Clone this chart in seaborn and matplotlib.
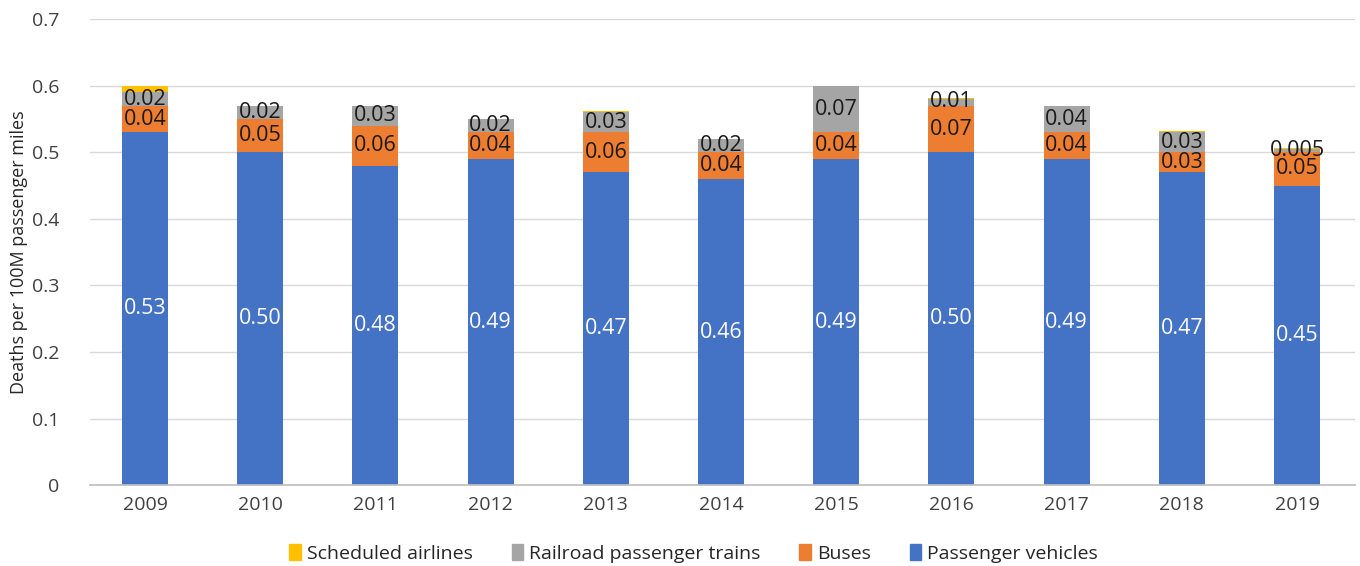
import numpy as np
import pandas as pd
import matplotlib.pyplot as plt
import seaborn as sns
from matplotlib.patches import Patch

years = ["2009", "2010", "2011", "2012", "2013", "2014", "2015", "2016", "2017", "2018", "2019"]
vehicles = [0.53, 0.50, 0.48, 0.49, 0.47, 0.46, 0.49, 0.50, 0.49, 0.47, 0.45]
buses = [0.04, 0.05, 0.06, 0.04, 0.06, 0.04, 0.04, 0.07, 0.04, 0.03, 0.05]
trains = [0.02, 0.02, 0.03, 0.02, 0.03, 0.02, 0.07, 0.01, 0.04, 0.03, 0.005]
airlines = [0.01, 0.0, 0.0, 0.0, 0.002, 0.0, 0.0, 0.002, 0.0, 0.002, 0.002]

vehicle_labels = ["0.53", "0.50", "0.48", "0.49", "0.47", "0.46", "0.49", "0.50", "0.49", "0.47", "0.45"]
bus_labels = ["0.04", "0.05", "0.06", "0.04", "0.06", "0.04", "0.04", "0.07", "0.04", "0.03", "0.05"]
train_labels = ["0.02", "0.02", "0.03", "0.02", "0.03", "0.02", "0.07", "0.01", "0.04", "0.03", "0.005"]

colors = {"Passenger vehicles": "#4472C4", "Buses": "#ED7D31",
          "Railroad passenger trains": "#A5A5A5", "Scheduled airlines": "#FFC000"}

sns.set_theme(style="white")
plt.rcParams["font.family"] = ["Open Sans", "DejaVu Sans"]

df = pd.DataFrame({"year": years, "Passenger vehicles": vehicles, "Buses": buses,
                   "Railroad passenger trains": trains, "Scheduled airlines": airlines})

fig = plt.figure(figsize=(13.6, 5.66), dpi=100)
ax = fig.add_axes([0.066, 0.143, 0.930, 0.823])

bottom = np.zeros(len(years))
layers = ["Passenger vehicles", "Buses", "Railroad passenger trains", "Scheduled airlines"]
labels = {"Passenger vehicles": vehicle_labels, "Buses": bus_labels,
          "Railroad passenger trains": train_labels}
for name in layers:
    vals = df[name].values
    sns.barplot(data=df, x="year", y=name, order=years, color=colors[name],
                bottom=bottom, width=0.4, saturation=1, ax=ax, linewidth=0)
    if name in labels:
        tc = "white" if name == "Passenger vehicles" else "#1a1a1a"
        for i, (v, b) in enumerate(zip(vals, bottom)):
            y = b + v / 2
            if name == "Railroad passenger trains" and v < 0.015:
                y = b + v / 2 + 0.001
            ax.text(i, y, labels[name][i], ha="center", va="center",
                    color=tc, fontsize=15.5)
    bottom = bottom + vals

ax.set_ylim(0, 0.7)
ax.set_xlim(-0.48, 10.5)
ax.set_yticks(np.arange(0, 0.71, 0.1))
ax.set_yticklabels(["0", "0.1", "0.2", "0.3", "0.4", "0.5", "0.6", "0.7"])
ax.yaxis.grid(True, color="#d9d9d9", linewidth=1)
ax.set_axisbelow(True)
for s in ["top", "right", "left"]:
    ax.spines[s].set_visible(False)
ax.spines["bottom"].set_color("#bfbfbf")
ax.tick_params(axis="both", labelsize=14, colors="#404040", length=0)
ax.tick_params(axis="y", pad=22)
ax.tick_params(axis="x", pad=8)
ax.set_xlabel("")
ax.set_ylabel("Deaths per 100M passenger miles", fontsize=13, color="#262626", labelpad=3)

handles = [Patch(color=colors[n]) for n in
           ["Scheduled airlines", "Railroad passenger trains", "Buses", "Passenger vehicles"]]
fig.legend(handles, ["Scheduled airlines", "Railroad passenger trains", "Buses", "Passenger vehicles"],
           loc="lower center", bbox_to_anchor=(0.51, -0.025), ncol=4, frameon=False,
           fontsize=14, handlelength=0.6, handleheight=0.9, handletextpad=0.3,
           columnspacing=2.0)

fig.savefig("out.png", dpi=100)
